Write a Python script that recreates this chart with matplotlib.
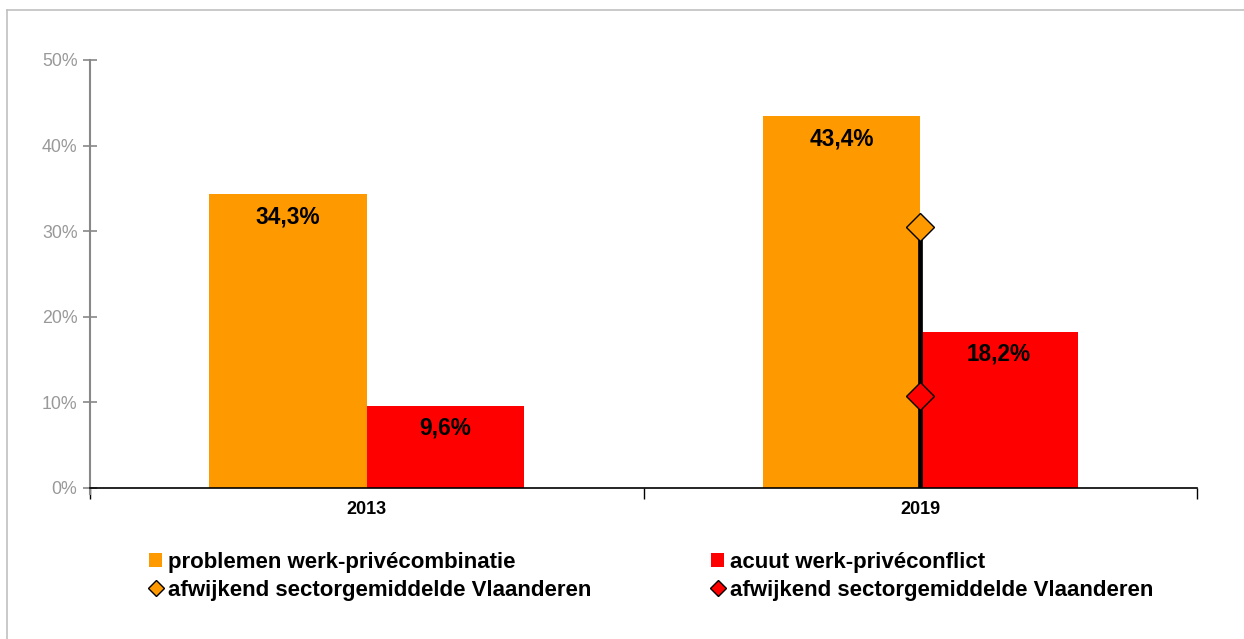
import matplotlib
matplotlib.use('Agg')
import matplotlib.pyplot as plt
from matplotlib.lines import Line2D
from matplotlib.patches import Patch
import numpy as np

plt.rcParams['font.family'] = ['Liberation Sans', 'DejaVu Sans']

years = ['2013', '2019']
problemen = [34.3, 43.4]
acuut = [9.6, 18.2]
# sector averages (only shown for 2019)
sector_problemen = [np.nan, 30.5]
sector_acuut = [np.nan, 10.8]
yticks = [0, 10, 20, 30, 40, 50]

c_orange = '#ff9900'
c_red = '#ff0000'

fig = plt.figure(figsize=(12.44, 6.39), dpi=100)
ax = fig.add_axes([90 / 1244, 1 - 488 / 639, 1107 / 1244, 428 / 639])

x = np.arange(len(years))
w = 0.285
b1 = ax.bar(x - w / 2, problemen, w, color=c_orange, zorder=2)
b2 = ax.bar(x + w / 2, acuut, w, color=c_red, zorder=2)

for bars, vals in ((b1, problemen), (b2, acuut)):
    for r, v in zip(bars, vals):
        ax.annotate(f'{v:.1f}%'.replace('.', ','),
                    (r.get_x() + r.get_width() / 2, v),
                    xytext=(0, -16), textcoords='offset points',
                    ha='center', va='center', fontsize=16.3,
                    fontweight='bold', color='black', zorder=5)

# vertical line + diamonds at the boundary between the bars
for i in range(len(years)):
    if not np.isnan(sector_problemen[i]):
        ax.plot([x[i], x[i]], [0, sector_problemen[i]], color='black',
                linewidth=3.4, zorder=3)
ax.plot(x, sector_problemen, linestyle='none', marker='D', markersize=14.5,
        markerfacecolor=c_orange, markeredgecolor='black',
        markeredgewidth=1, zorder=4)
ax.plot(x, sector_acuut, linestyle='none', marker='D', markersize=14.5,
        markerfacecolor=c_red, markeredgecolor='black',
        markeredgewidth=1, zorder=4)

ax.set_xlim(-0.5, 1.5)
ax.set_ylim(0, 50)
ax.set_yticks(yticks)
ax.set_yticklabels([f'{t}%' for t in yticks])
ax.set_xticks(x)
ax.set_xticklabels(years, fontsize=13, fontweight='bold')
ax.set_xticks([-0.5, 0.5, 1.5], minor=True)
ax.tick_params(axis='x', which='major', length=0, pad=9)
ax.tick_params(axis='x', which='minor', length=8, direction='out',
               color='black', width=1)
ax.tick_params(axis='y', length=10, direction='inout', color='#888888',
               width=1.2, labelcolor='#999999', labelsize=12.8, pad=4)

for s in ('top', 'right'):
    ax.spines[s].set_visible(False)
ax.spines['left'].set_color('#888888')
ax.spines['left'].set_linewidth(1.5)
ax.spines['left'].set_bounds(-0.7, 50)
ax.spines['bottom'].set_color('black')
ax.spines['bottom'].set_linewidth(1.2)
ax.spines['bottom'].set_zorder(6)

handles = [
    Patch(facecolor=c_orange, edgecolor='none'),
    Line2D([], [], linestyle='none', marker='D', markersize=8.5,
           markerfacecolor=c_orange, markeredgecolor='black'),
    Patch(facecolor=c_red, edgecolor='none'),
    Line2D([], [], linestyle='none', marker='D', markersize=8.5,
           markerfacecolor=c_red, markeredgecolor='black'),
]
labels = ['problemen werk-privécombinatie',
          'afwijkend sectorgemiddelde Vlaanderen',
          'acuut werk-privéconflict',
          'afwijkend sectorgemiddelde Vlaanderen']
leg = fig.legend(handles, labels, ncol=2, loc='upper left',
                 bbox_to_anchor=(140 / 1244, 1 - 543 / 639),
                 frameon=False, prop={'size': 16, 'weight': 'bold'},
                 handlelength=0.6, handleheight=0.6, handletextpad=0.25,
                 columnspacing=5.4, labelspacing=0.3, borderaxespad=0)

# outer frame (top and left edges visible)
fig.add_artist(Line2D([7 / 1244, 1], [1 - 10 / 639, 1 - 10 / 639],
                      color='#c0c0c0', linewidth=1.2))
fig.add_artist(Line2D([7 / 1244, 7 / 1244], [0, 1 - 10 / 639],
                      color='#c0c0c0', linewidth=1.2))

fig.savefig('out.png', dpi=100)
plt.close(fig)
